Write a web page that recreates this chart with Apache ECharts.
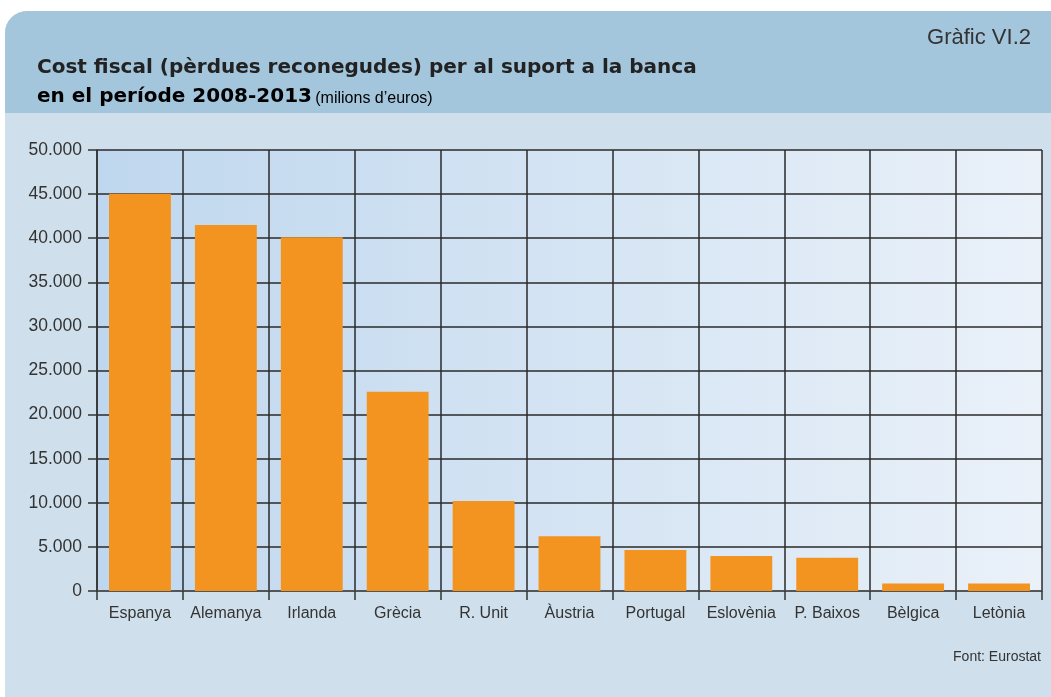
<!DOCTYPE html>
<html>
<head>
<meta charset="utf-8">
<script src="https://cdn.jsdelivr.net/npm/echarts@6/dist/echarts.min.js"></script>
<style>
html,body{margin:0;padding:0;background:#ffffff;}
#chart{width:1051px;height:697px;}
</style>
</head>
<body>
<div id="chart"></div>
<script>
const categories = ['Espanya','Alemanya','Irlanda','Grècia','R. Unit','Àustria','Portugal','Eslovènia','P. Baixos','Bèlgica','Letònia'];
const costValues = [45050, 41500, 40100, 22600, 10200, 6200, 4650, 3980, 3760, 860, 860];
const yTicks = [0, 5000, 10000, 15000, 20000, 25000, 30000, 35000, 40000, 45000, 50000];
const titleLine1 = 'Cost fiscal (pèrdues reconegudes) per al suport a la banca';
const titleLine2 = 'en el període 2008-2013';
const titleUnit = '(milions d\u2019euros)';
const chartTag = 'Gràfic VI.2';
const sourceText = 'Font: Eurostat';

function fmt(v){
  return String(v).replace(/\B(?=(\d{3})+(?!\d))/g, '.');
}

const chart = echarts.init(document.getElementById('chart'), null, {renderer:'canvas'});
const FONT = '"Liberation Sans", Arial, Helvetica, sans-serif';
const TFONT = '"DejaVu Sans", "Liberation Sans", Arial, sans-serif';

chart.setOption({
  animation:false,
  backgroundColor:'#ffffff',
  textStyle:{fontFamily:FONT},
  graphic:[
    {type:'rect', z:-100, silent:true, shape:{x:5,y:11,width:1070,height:700,r:[22,0,0,0]}, style:{fill:'#cfe0ec'}},
    {type:'rect', z:-99, silent:true, shape:{x:5,y:11,width:1070,height:102,r:[22,0,0,0]}, style:{fill:'#a3c6dc'}},
    {type:'text', z:100, left:37, top:58, style:{text:titleLine1, font:'bold 20px ' + TFONT, fill:'#222222'}},
    {type:'text', z:100, left:37, top:87, style:{
      text:'{b|' + titleLine2 + '} {s|' + titleUnit + '}',
      rich:{
        b:{fontWeight:'bold', fontSize:20, fontFamily:TFONT, color:'#222222', verticalAlign:'bottom', lineHeight:25},
        s:{fontSize:16, fontFamily:FONT, color:'#3a3a3a', verticalAlign:'bottom', lineHeight:23}
      }
    }},
    {type:'text', z:100, right:20, top:27, style:{text:chartTag, font:'22px ' + FONT, fill:'#333333'}},
    {type:'text', z:100, right:10, top:650, style:{text:sourceText, font:'14px ' + FONT, fill:'#333333'}}
  ],
  grid:{
    left:97, right:9, top:150, bottom:106,
    show:true,
    borderWidth:0,
    backgroundColor:{type:'linear', x:0, y:0, x2:1, y2:0, colorStops:[{offset:0,color:'#bfd7ee'},{offset:1,color:'#eaf1f9'}]}
  },
  xAxis:{
    type:'category',
    data:categories,
    axisLine:{show:true, lineStyle:{color:'#555555', width:1.5}},
    axisTick:{show:true, interval:0, length:9, lineStyle:{color:'#333333', width:1.5}},
    splitLine:{show:true, interval:0, lineStyle:{color:'#2a2a2a', width:1.5}},
    axisLabel:{color:'#333333', interval:0, fontSize:16, margin:15, fontFamily:FONT}
  },
  yAxis:{
    type:'value',
    min:yTicks[0], max:yTicks[yTicks.length-1], interval:yTicks[1]-yTicks[0],
    axisLine:{show:true, lineStyle:{color:'#333333', width:1.5}},
    axisTick:{show:true, length:9, lineStyle:{color:'#333333', width:1.5}},
    splitLine:{show:true, lineStyle:{color:'#2a2a2a', width:1.5}},
    axisLabel:{color:'#333333', fontSize:17.5, margin:15, fontFamily:FONT, formatter:function(v){return fmt(v);}}
  },
  series:[{
    type:'bar',
    data:costValues,
    barCategoryGap:'28%',
    itemStyle:{color:'#f39320'}
  }]
});
</script>
</body>
</html>
